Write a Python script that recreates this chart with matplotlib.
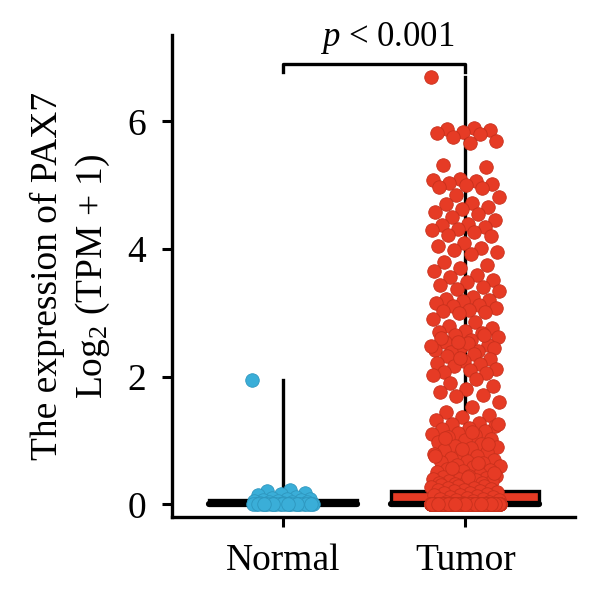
import numpy as np
import matplotlib
matplotlib.use("Agg")
import matplotlib.pyplot as plt

plt.rcParams['font.family'] = ['Liberation Serif', 'DejaVu Serif']
plt.rcParams['mathtext.fontset'] = 'custom'
plt.rcParams['mathtext.rm'] = 'Liberation Serif'
plt.rcParams['mathtext.it'] = 'Liberation Serif:italic'

# data (log2(TPM+1))
groups = ['Normal', 'Tumor']
normal_vals = [1.95, 0.22, 0.20, 0.18, 0.16, 0.15, 0.12, 0.10, 0.09, 0.08,
               0.07, 0.06, 0.05, 0.05, 0.04, 0.03, 0.03, 0.02, 0.02, 0.01] + [0.0] * 25

tumor_high = [6.69,
              5.90, 5.88, 5.86, 5.84, 5.82, 5.80, 5.76, 5.70, 5.66,
              5.32, 5.28, 5.10, 5.08, 5.06, 5.04, 5.02, 5.00, 4.98, 4.95,
              4.85, 4.82, 4.72, 4.70, 4.66, 4.62, 4.58, 4.55, 4.50,
              4.45, 4.40, 4.38, 4.35, 4.32, 4.30, 4.26, 4.22, 4.20,
              4.10, 4.05, 4.02, 3.98, 3.95, 3.92,
              3.80, 3.75, 3.70, 3.65, 3.60, 3.56,
              3.52, 3.48, 3.44, 3.40, 3.37, 3.35,
              3.25, 3.22, 3.20, 3.18, 3.15, 3.12, 3.10, 3.08, 3.05, 3.03, 3.01, 3.00,
              2.90, 2.85, 2.80, 2.76, 2.72, 2.70,
              2.68, 2.65, 2.62, 2.58, 2.55, 2.50, 2.46, 2.42, 2.40, 2.38,
              2.45, 2.52, 2.60, 2.66, 2.55, 2.48,
              2.36, 2.32, 2.28, 2.25, 2.22, 2.20, 2.16, 2.12, 2.10, 2.08, 2.06, 2.30,
              2.02, 1.96, 1.90, 1.85, 1.80, 1.76, 1.72, 1.70,
              1.60, 1.52, 1.45, 1.40, 1.36]
tumor_mid = [1.32, 1.28, 1.25, 1.22, 1.20, 1.18, 1.15, 1.12, 1.10, 1.08,
             1.05, 1.02, 1.00, 0.98, 0.95, 0.92, 0.90, 0.88, 0.85, 0.82,
             0.80, 0.78, 0.75, 0.72, 0.70, 0.68, 0.66, 0.64, 0.62, 0.60,
             0.58, 0.56, 0.54, 0.52, 0.50, 0.48, 0.46, 0.45, 0.44, 0.42,
             0.41, 0.40, 0.39, 0.38, 0.37, 0.36, 0.35, 0.34, 0.33, 0.32,
             1.26, 1.14, 1.04, 0.94, 0.86, 0.76, 0.65, 0.57, 0.49, 0.43]
tumor_low = [0.30, 0.29, 0.28, 0.27, 0.26, 0.25, 0.24, 0.23, 0.22, 0.21,
             0.20, 0.19, 0.18, 0.17, 0.16, 0.15, 0.14, 0.13, 0.12, 0.11,
             0.10, 0.09, 0.08, 0.07, 0.06, 0.05, 0.04, 0.03, 0.02, 0.01] + [0.0] * 536
tumor_vals = tumor_high + tumor_mid + tumor_low

colors = ['#3AAED8', '#E63B25']
edge_colors = ['#2E96BE', '#C8301C']

fig = plt.figure(figsize=(6.0, 5.98), dpi=100)
ax = fig.add_axes([0.287, 0.135, 0.671, 0.806])

positions = [1, 2]
bp = ax.boxplot([normal_vals, tumor_vals], positions=positions, widths=0.81,
                whis=(0, 100), showcaps=False, showfliers=False, patch_artist=True,
                boxprops=dict(linewidth=2.4, edgecolor='black'),
                whiskerprops=dict(linewidth=2.4, color='black'),
                medianprops=dict(linewidth=4.5, color='black', solid_capstyle='round'))
bp['boxes'][0].set_facecolor('white')
bp['boxes'][1].set_facecolor(colors[1])

# jittered points (deterministic low-discrepancy offsets)
for pos, vals, c, ec, w in zip(positions, [normal_vals, tumor_vals], colors, edge_colors, [0.17, 0.19]):
    v = np.array(vals)
    off = ((np.arange(len(v)) * 0.6180339887) % 1.0 - 0.5) * 2 * w
    ax.scatter(pos + off, v, s=95, color=c, edgecolors=ec, linewidths=0.6, zorder=3)

# significance bracket
ax.plot([1, 1, 2, 2], [6.78, 6.9, 6.9, 6.78], color='black', lw=2.4, clip_on=False)
ax.text(1.57, 7.3, r'$p$ < 0.001', ha='center', va='center', fontsize=25)

ax.set_xlim(0.393, 2.6)
ax.set_ylim(-0.204, 7.35)
ax.set_xticks(positions)
ax.set_xticklabels(groups)
ax.set_yticks([0, 2, 4, 6])
ax.tick_params(axis='both', labelsize=27, width=2.2, length=7, direction='out')
ax.tick_params(axis='x', pad=12)
ax.tick_params(axis='y', pad=12)
for s in ['top', 'right']:
    ax.spines[s].set_visible(False)
for s in ['left', 'bottom']:
    ax.spines[s].set_linewidth(2.4)
ax.set_ylabel('The expression of PAX7\nLog$_2$ (TPM + 1)', fontsize=27, linespacing=1.3)
ax.yaxis.set_label_coords(-0.15, 0.5)

fig.savefig('out.png', dpi=100)
